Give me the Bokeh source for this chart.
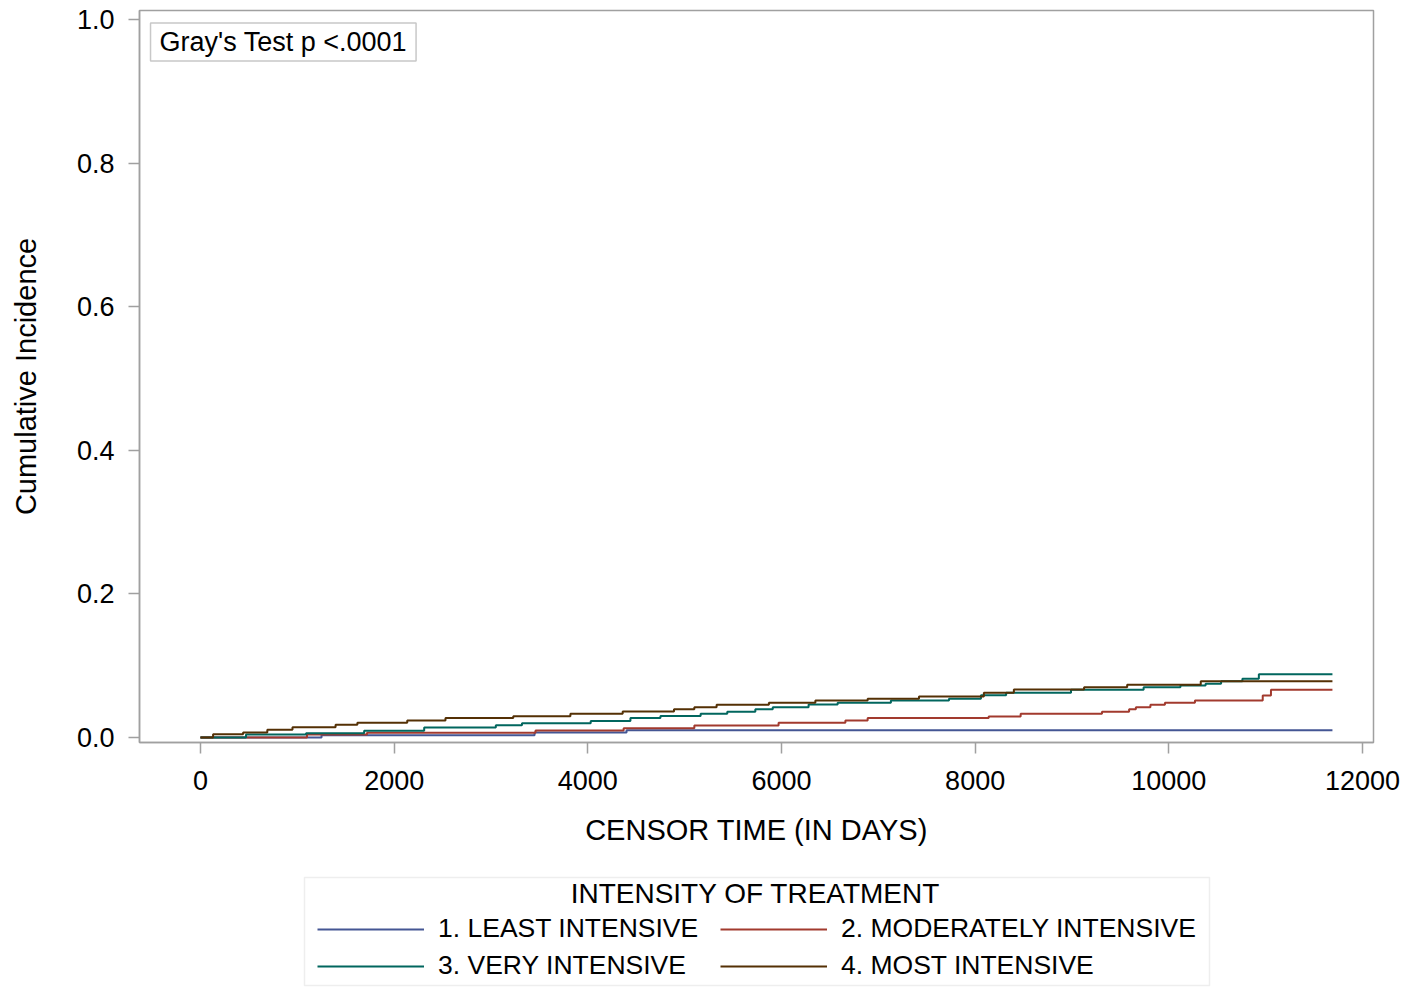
from bokeh.plotting import figure
from bokeh.models import (Range1d, Legend, LegendItem, Label, FixedTicker,
                          NumeralTickFormatter, BoxAnnotation)
from bokeh.layouts import column
from bokeh.embed import file_html
from bokeh.resources import INLINE

FONT = "Liberation Sans"

# ---- data ----
t_least = [0, 1250, 3450, 4400, 11690]
ci_least = [0, 0.0030, 0.0070, 0.0100, 0.0100]

t_moderate = [0, 1100, 1720, 3460, 4370, 5100, 5970, 6660, 6890, 8140, 8470, 9310,
              9590, 9660, 9810, 9960, 10270, 10970, 11055, 11690]
ci_moderate = [0, 0.004, 0.0066, 0.0098, 0.013, 0.0167, 0.0205, 0.0237, 0.027, 0.0293,
               0.033, 0.036, 0.0395, 0.042, 0.0456, 0.0484, 0.0516, 0.0586, 0.0665, 0.0665]

t_very = [0, 470, 1090, 1690, 2310, 3050, 3320, 4030, 4440, 4750, 5165, 5440, 5730,
          5910, 6280, 6580, 7130, 7730, 8060, 8320, 8990, 9740, 10120, 10380, 10540,
          10760, 10930, 11690]
ci_very = [0, 0.004, 0.006, 0.0093, 0.014, 0.017, 0.020, 0.023, 0.027, 0.030, 0.033,
           0.036, 0.0395, 0.042, 0.046, 0.0484, 0.0516, 0.054, 0.059, 0.0623, 0.0665,
           0.070, 0.0725, 0.075, 0.0785, 0.082, 0.088, 0.088]

t_most = [0, 130, 440, 690, 950, 1395, 1620, 2135, 2530, 3230, 3820, 4360, 4890, 5100,
          5330, 5870, 6350, 6890, 7420, 8090, 8400, 9125, 9570, 10330, 11690]
ci_most = [0, 0.0046, 0.007, 0.0107, 0.0144, 0.0177, 0.0205, 0.0237, 0.027, 0.0297,
           0.033, 0.0363, 0.0395, 0.0423, 0.0456, 0.0484, 0.0516, 0.054, 0.057, 0.0625,
           0.067, 0.070, 0.0735, 0.0785, 0.0785]

group_labels = ["1. LEAST INTENSIVE", "2. MODERATELY INTENSIVE",
                "3. VERY INTENSIVE", "4. MOST INTENSIVE"]
group_colors = ["#445694", "#A23A2E", "#01665E", "#543005"]
legend_title = "INTENSITY OF TREATMENT"
x_ticks = [0, 2000, 4000, 6000, 8000, 10000, 12000]
y_ticks = [0.0, 0.2, 0.4, 0.6, 0.8, 1.0]

TOP_H = 870
FRAME_L, FRAME_R = 139, 1373
p = figure(width=1409, height=TOP_H, output_backend="svg", toolbar_location=None,
           x_range=Range1d(-630, 12114), y_range=Range1d(-0.007, 1.0132),
           min_border_left=FRAME_L, min_border_right=1409 - FRAME_R, min_border_top=10,
           min_border_bottom=TOP_H - 742)

p.background_fill_color = "white"
p.border_fill_color = "white"
p.outline_line_color = "#A0A0A0"
p.outline_line_width = 1.5
p.xgrid.visible = False
p.ygrid.visible = False

series = [(t_least, ci_least), (t_moderate, ci_moderate), (t_very, ci_very), (t_most, ci_most)]
for (tx, cy), col in zip(series, group_colors):
    p.step(tx, cy, mode="after", line_color=col, line_width=2)

for ax in (p.xaxis[0], p.yaxis[0]):
    ax.axis_line_color = "#A0A0A0"
    ax.axis_line_width = 1.5
    ax.major_tick_line_color = "#A0A0A0"
    ax.major_tick_line_width = 1.5
    ax.major_tick_out = 11
    ax.major_tick_in = 0
    ax.minor_tick_line_color = None
    ax.major_label_text_font = FONT
    ax.major_label_text_font_size = "27px"
    ax.major_label_text_color = "#000000"
    ax.axis_label_text_font = FONT
    ax.axis_label_text_font_size = "29px"
    ax.axis_label_text_font_style = "normal"
    ax.axis_label_text_color = "#000000"

p.xaxis.ticker = FixedTicker(ticks=x_ticks)
p.yaxis.ticker = FixedTicker(ticks=y_ticks)
p.yaxis.formatter = NumeralTickFormatter(format="0.0")
p.xaxis.axis_label = "CENSOR TIME (IN DAYS)"
p.yaxis.axis_label = "Cumulative Incidence"
p.xaxis.major_label_standoff = 17
p.yaxis.major_label_standoff = 14
p.xaxis.axis_label_standoff = 21
p.yaxis.axis_label_standoff = 32

# Gray's test box
p.add_layout(Label(x=-516, y=0.9958, text="Gray's Test p <.0001",
                   text_font=FONT, text_font_size="27px", text_color="#000000",
                   text_align="left", text_baseline="top",
                   border_line_color="#C8C8C8", border_line_width=1.5,
                   background_fill_color="white", padding=(9, 4)))

# ---- legend panel below (its frame is aligned with the main frame) ----
LEG_H = 988 - TOP_H
q = figure(width=1409, height=LEG_H, output_backend="svg", toolbar_location=None,
           x_range=Range1d(FRAME_L, FRAME_R), y_range=Range1d(0, LEG_H),
           x_axis_location=None, y_axis_location=None,
           min_border_left=FRAME_L, min_border_right=1409 - FRAME_R,
           min_border_top=0, min_border_bottom=0)
q.outline_line_color = None
q.xgrid.visible = False
q.ygrid.visible = False
q.background_fill_color = "white"
q.border_fill_color = "white"

# legend key renderers (kept outside the visible range; only their legend glyphs show)
keys = [q.line([-50, -40], [-50, -50], line_color=c, line_width=2) for c in group_colors]

q.add_layout(BoxAnnotation(left=304, right=1209, bottom=LEG_H - (985 - TOP_H),
                           top=LEG_H - (877 - TOP_H), fill_color=None,
                           line_color="#C8C8C8", line_width=1.5))

def make_legend(idx, x_left):
    return Legend(items=[LegendItem(label=group_labels[i], renderers=[keys[i]]) for i in idx],
                  location=(x_left - FRAME_L, 7), orientation="vertical",
                  label_text_font=FONT, label_text_font_size="26.5px",
                  label_text_color="#000000",
                  glyph_width=107, glyph_height=20, label_standoff=14,
                  spacing=6, padding=0, margin=0,
                  border_line_color=None, background_fill_alpha=0)

q.add_layout(make_legend([0, 2], 317), "center")
q.add_layout(make_legend([1, 3], 720), "center")

q.add_layout(Label(x=755, y=LEG_H - (893 - TOP_H), text=legend_title,
                   text_font=FONT, text_font_size="28px", text_color="#000000",
                   text_align="center", text_baseline="middle", level="overlay"))

open("out.html", "w").write(file_html(column(p, q, spacing=0), INLINE))
